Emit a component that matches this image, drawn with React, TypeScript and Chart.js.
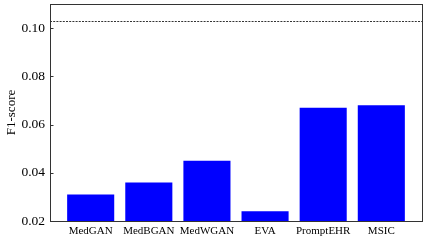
import React, { useEffect, useRef } from "react";
import { Chart, registerables } from "chart.js";

Chart.register(...registerables);

const categories = ["MedGAN", "MedBGAN", "MedWGAN", "EVA", "PromptEHR", "MSIC"];
const f1Scores = [0.031, 0.036, 0.045, 0.024, 0.067, 0.068];
const referenceLine = 0.103;
const yTicks = [0.02, 0.04, 0.06, 0.08, 0.1];

const FONT = "'Liberation Serif', 'DejaVu Serif', serif";

const framePlugin = {
  id: "frameAndRef",
  afterDatasetsDraw(chart: any) {
    const { ctx, chartArea, scales } = chart;
    const y = scales.y;
    ctx.save();
    // dashed reference line
    const yy = Math.round(y.getPixelForValue(referenceLine)) + 0.5;
    ctx.strokeStyle = "#000";
    ctx.lineWidth = 0.8;
    ctx.setLineDash([2, 1.2]);
    ctx.beginPath();
    ctx.moveTo(chartArea.left, yy);
    ctx.lineTo(chartArea.right, yy);
    ctx.stroke();
    ctx.setLineDash([]);
    // inward ticks
    ctx.strokeStyle = "#333";
    ctx.lineWidth = 1;
    for (const v of yTicks) {
      const p = Math.round(y.getPixelForValue(v)) + 0.5;
      ctx.beginPath();
      ctx.moveTo(chartArea.left, p);
      ctx.lineTo(chartArea.left + 3.5, p);
      ctx.stroke();
    }
    // frame
    ctx.strokeStyle = "#333";
    ctx.lineWidth = 1;
    ctx.strokeRect(
      Math.round(chartArea.left) + 0.5,
      Math.round(chartArea.top) + 0.5,
      Math.round(chartArea.right - chartArea.left),
      Math.round(chartArea.bottom - chartArea.top)
    );
    ctx.restore();
  },
};

export default function App() {
  const canvasRef = useRef<HTMLCanvasElement | null>(null);

  useEffect(() => {
    document.body.style.margin = "0";
    const canvas = canvasRef.current;
    if (!canvas) return;
    const chart = new Chart(canvas, {
      type: "bar",
      data: {
        datasets: [
          {
            data: f1Scores.map((v, i) => ({ x: i, y: v })),
            backgroundColor: "#0000ff",
            borderWidth: 0,
            categoryPercentage: 1,
            barPercentage: 0.81,
          },
        ],
      },
      options: {
        animation: false,
        responsive: true,
        maintainAspectRatio: false,
        layout: { padding: { top: 4, right: 4, left: 0, bottom: 0 } },
        plugins: { legend: { display: false }, tooltip: { enabled: false } },
        scales: {
          x: {
            type: "linear",
            min: -0.7,
            max: 5.7,
            offset: false,
            grid: { display: false, drawTicks: false },
            border: { display: false },
            afterBuildTicks: (scale: any) => {
              scale.ticks = categories.map((_, i) => ({ value: i }));
            },
            afterFit: (scale: any) => {
              scale.height = 19;
              scale.paddingLeft = 0;
              scale.paddingRight = 0;
            },
            ticks: {
              autoSkip: false,
              maxRotation: 0,
              padding: 4,
              color: "#000",
              font: { family: FONT, size: 11 },
              callback: (v: any) => categories[v as number] ?? "",
            },
          },
          y: {
            type: "linear",
            min: 0.02,
            max: 0.11,
            grid: { display: false, drawTicks: false },
            border: { display: false },
            afterBuildTicks: (scale: any) => {
              scale.ticks = yTicks.map((v) => ({ value: v }));
            },
            afterFit: (scale: any) => {
              scale.width = 50;
              scale.paddingTop = 0;
              scale.paddingBottom = 0;
            },
            ticks: {
              padding: 5,
              color: "#000",
              font: { family: FONT, size: 13.5 },
              callback: (v: any) => Number(v).toFixed(2),
            },
            title: {
              display: true,
              text: "F1-score",
              color: "#000",
              font: { family: FONT, size: 13 },
              padding: { top: 4, bottom: 0 },
            },
          },
        },
      },
      plugins: [framePlugin],
    });
    return () => chart.destroy();
  }, []);

  return (
    <div style={{ position: "relative", width: 426, height: 240 }}>
      <canvas ref={canvasRef} />
    </div>
  );
}
